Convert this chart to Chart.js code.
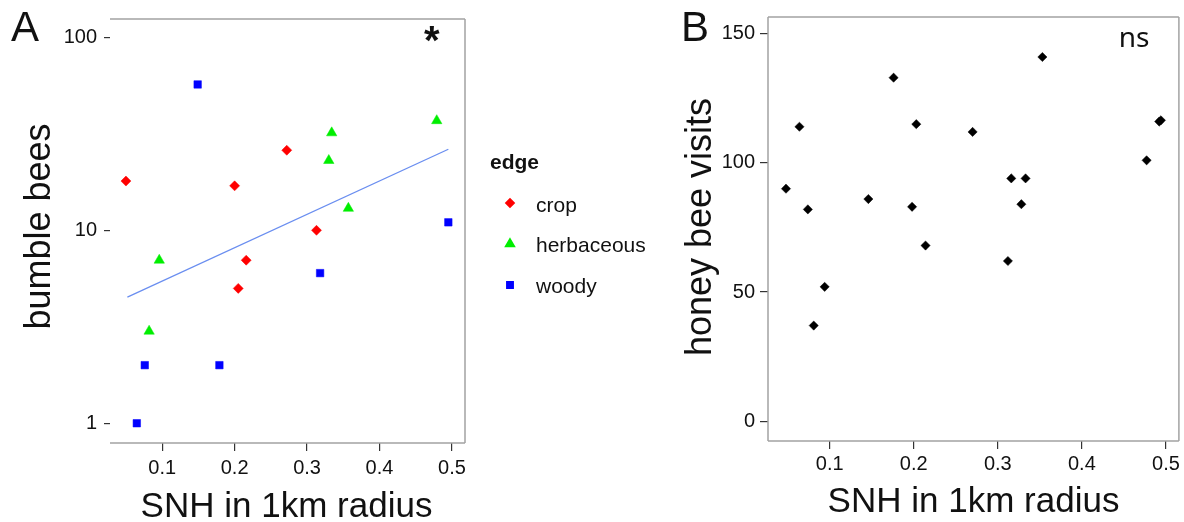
<!DOCTYPE html>
<html>
<head>
<meta charset="utf-8">
<script src="https://cdn.jsdelivr.net/npm/chart.js@4.4.1/dist/chart.umd.min.js"></script>
<style>
  html, body { margin: 0; padding: 0; background: #fff; }
  #wrap { position: relative; width: 1184px; height: 522px; }
  .panel { position: absolute; top: 0; height: 522px; }
  #pa { left: 0; width: 670px; }
  #pb { left: 670px; width: 514px; }
</style>
</head>
<body>
<div id="wrap">
  <div class="panel" id="pa"><canvas id="chartA" width="670" height="522"></canvas></div>
  <div class="panel" id="pb"><canvas id="chartB" width="514" height="522"></canvas></div>
</div>
<script>
/* --- Data, panel A: bumble bees vs SNH (log y) --- */
const edgeTypes = ['crop', 'herbaceous', 'woody'];
const cropSNH = [0.050, 0.200, 0.205, 0.216, 0.272, 0.313];
const cropBumble = [18, 17, 5, 7, 26, 10];
const herbSNH = [0.082, 0.096, 0.330, 0.334, 0.357, 0.479];
const herbBumble = [3, 7, 23, 32, 13, 37];
const woodySNH = [0.065, 0.076, 0.149, 0.179, 0.318, 0.495];
const woodyBumble = [1, 2, 57, 2, 6, 11];
const fitSNH = [0.052, 0.495];
const fitBumble = [4.5, 26.3];
const ticksSNH = [0.1, 0.2, 0.3, 0.4, 0.5];
const ticksBumble = [1, 10, 100];

/* --- Data, panel B: honey bee visits vs SNH --- */
const honeySNH = [0.048, 0.064, 0.074, 0.081, 0.094, 0.146, 0.176, 0.198, 0.203, 0.214,
                  0.270, 0.312, 0.316, 0.328, 0.333, 0.353, 0.477, 0.492, 0.494];
const honeyVisits = [90, 114, 82, 37, 52, 86, 133, 83, 115, 68,
                     112, 62, 94, 84, 94, 141, 101, 116, 116.5];
const ticksHoney = [0, 50, 100, 150];

/* --- Stil --- */
const FONT = "'Liberation Sans', Arial, sans-serif";
const FRAME = '#a3a3a3';
const TICK = '#333333';
const TEXT = '#111111';
const COL = { crop: '#ff0000', herbaceous: '#00ee00', woody: '#0000ff' };
const SHAPE = { crop: ['rectRot', 5], herbaceous: ['triangle', 6], woody: ['rect', 5.3] };

function pts(xs, ys){ return xs.map((x, i) => ({ x: x, y: ys[i] })); }

function axis(type, min, max, tickVals, fmt, size, isX, tickLen, pad){
  return {
    type: type, min: min, max: max,
    afterBuildTicks: s => { s.ticks = tickVals.map(v => ({ value: v })); },
    afterFit: s => { if (isX) s.height = size; else s.width = size; },
    ticks: { callback: fmt, color: TEXT, font: { family: FONT, size: 20 }, padding: pad, maxRotation: 0, autoSkip: false },
    grid: { drawOnChartArea: false, drawTicks: true, tickLength: tickLen, color: TICK, lineWidth: 1.2 },
    border: { display: false }
  };
}

/* rita ram + texter på canvas */
function decorPlugin(sides, texts, extra){
  return {
    id: 'decor',
    afterDraw(chart){
      const { ctx, chartArea: { left, right, top, bottom } } = chart;
      ctx.save();
      ctx.strokeStyle = FRAME;
      ctx.lineWidth = 1.5;
      ctx.beginPath();
      if (sides.includes('t')) { ctx.moveTo(left, top); ctx.lineTo(right, top); }
      if (sides.includes('r')) { ctx.moveTo(right, top); ctx.lineTo(right, bottom); }
      if (sides.includes('b')) { ctx.moveTo(left, bottom); ctx.lineTo(right, bottom); }
      if (sides.includes('l')) { ctx.moveTo(left, top); ctx.lineTo(left, bottom); }
      ctx.stroke();
      texts.forEach(t => {
        ctx.save();
        ctx.font = t.font;
        ctx.fillStyle = t.color || TEXT;
        ctx.textAlign = t.align || 'left';
        ctx.textBaseline = t.baseline || 'alphabetic';
        ctx.translate(t.x, t.y);
        if (t.rot) ctx.rotate(t.rot);
        ctx.fillText(t.text, 0, 0);
        ctx.restore();
      });
      if (extra) extra(ctx, chart);
      ctx.restore();
    }
  };
}

/* centrera en glyf efter dess faktiska bounding box */
function drawCentered(ctx, text, font, cx, cy){
  ctx.font = font;
  const m = ctx.measureText(text);
  const w = m.actualBoundingBoxRight + m.actualBoundingBoxLeft;
  const h = m.actualBoundingBoxAscent + m.actualBoundingBoxDescent;
  ctx.textAlign = 'left';
  ctx.textBaseline = 'alphabetic';
  ctx.fillStyle = TEXT;
  ctx.fillText(text, cx - w / 2 + m.actualBoundingBoxLeft, cy - h / 2 + m.actualBoundingBoxAscent);
}

/* --- Panel A --- */
const seriesA = [pts(cropSNH, cropBumble), pts(herbSNH, herbBumble), pts(woodySNH, woodyBumble)];
const datasetsA = edgeTypes.map((e, i) => ({
  label: e,
  data: seriesA[i],
  pointStyle: SHAPE[e][0],
  pointRadius: SHAPE[e][1],
  pointBackgroundColor: COL[e],
  pointBorderColor: COL[e],
  pointBorderWidth: 0.5,
  showLine: false
}));
datasetsA.push({
  label: 'fit',
  data: pts(fitSNH, fitBumble),
  showLine: true,
  borderColor: '#6a8ef0',
  borderWidth: 1.3,
  pointRadius: 0
});

function legendA(ctx){
  ctx.font = 'bold 21px ' + FONT;
  ctx.fillStyle = TEXT;
  ctx.textAlign = 'left';
  ctx.textBaseline = 'middle';
  ctx.fillText('edge', 490, 163);
  const markY = [203, 244, 285];
  const textY = [212, 252, 293];
  edgeTypes.forEach((e, i) => {
    ctx.fillStyle = COL[e];
    ctx.strokeStyle = COL[e];
    Chart.helpers.drawPoint(ctx, { pointStyle: SHAPE[e][0], radius: SHAPE[e][1] - 0.8, rotation: 0, borderWidth: 0.5 }, 510, markY[i]);
    ctx.fillStyle = TEXT;
    ctx.font = '21px ' + FONT;
    ctx.textBaseline = 'alphabetic';
    ctx.fillText(e, 536, textY[i]);
  });
  drawCentered(ctx, '*', 'bold 40px ' + FONT, 432, 34);
}

new Chart(document.getElementById('chartA'), {
  type: 'scatter',
  data: { datasets: datasetsA },
  options: {
    responsive: false,
    animation: false,
    devicePixelRatio: 1,
    layout: { padding: { left: 0, top: 15, right: 205, bottom: 0 } },
    plugins: { legend: { display: false }, tooltip: { enabled: false } },
    scales: {
      x: axis('linear', 0.028, 0.518, ticksSNH, v => v.toFixed(1), 79, true, 8, 5),
      y: axis('logarithmic', 0.79, 124.5, ticksBumble, v => String(v), 110, false, 6, 7)
    }
  },
  plugins: [decorPlugin('trb', [
    { text: 'A', font: '42px ' + FONT, x: 11, y: 41 },
    { text: 'bumble bees', font: '36px ' + FONT, x: 50, y: 226.5, rot: -Math.PI / 2, align: 'center' },
    { text: 'SNH in 1km radius', font: '35px ' + FONT, x: 286.5, y: 517, align: 'center' }
  ], legendA)]
});

/* --- Panel B --- */
new Chart(document.getElementById('chartB'), {
  type: 'scatter',
  data: {
    datasets: [{
      label: 'honey bee visits',
      data: pts(honeySNH, honeyVisits),
      pointStyle: 'rectRot',
      pointRadius: 4.6,
      pointBackgroundColor: '#000',
      pointBorderColor: '#000',
      pointBorderWidth: 0.5
    }]
  },
  options: {
    responsive: false,
    animation: false,
    devicePixelRatio: 1,
    layout: { padding: { left: 0, top: 13, right: 5, bottom: 0 } },
    plugins: { legend: { display: false }, tooltip: { enabled: false } },
    scales: {
      x: axis('linear', 0.0266, 0.5154, ticksSNH, v => v.toFixed(1), 81, true, 8, 3),
      y: axis('linear', -7.7, 156.5, ticksHoney, v => String(v), 98, false, 8, 5)
    }
  },
  plugins: [decorPlugin('trbl', [
    { text: 'B', font: '42px ' + FONT, x: 11, y: 41 },
    { text: 'ns', font: "28px 'Noto Sans', sans-serif", x: 464, y: 47, align: 'center' },
    { text: 'honey bee visits', font: '36px ' + FONT, x: 41, y: 227, rot: -Math.PI / 2, align: 'center' },
    { text: 'SNH in 1km radius', font: '35px ' + FONT, x: 303.5, y: 512, align: 'center' }
  ])]
});
</script>
</body>
</html>
